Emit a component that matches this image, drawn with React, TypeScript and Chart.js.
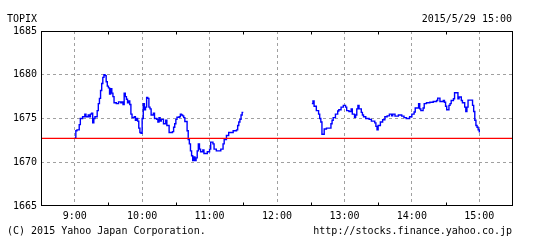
import React, { useEffect, useRef } from 'react';
import { Chart, registerables } from 'chart.js';

Chart.register(...registerables);

// minutes after 9:00
const morningMinutes = [0,1,2,4,5,7,9,10,12,13,14,15,16,17,18,20,21,22,23,24,25,26,27,28,29,30,31,32,33,34,35,37,39,41,42,43,44,45,46,47,48,49,50,51,53,54,55,56,57,58,59,60,61,62,63,64,65,66,67,68,70,71,73,74,75,76,77,79,81,82,84,87,88,89,90,91,93,94,95,96,97,98,100,101,102,103,104,105,106,107,108,109,110,111,112,114,115,117,118,120,121,123,124,126,129,130,132,133,135,137,141,144,145,146,147,148,149,150];
const morningValues = [1672.8,1673.6,1673.7,1674.3,1675.0,1675.2,1675.5,1675.2,1675.4,1675.2,1675.5,1675.6,1674.5,1675.0,1675.2,1675.9,1676.7,1677.3,1678.2,1679.0,1679.7,1680.0,1679.9,1679.2,1678.7,1678.5,1677.8,1678.4,1677.9,1677.5,1676.8,1676.7,1676.9,1676.8,1676.9,1676.6,1677.9,1677.5,1677.2,1676.8,1677.0,1676.6,1675.5,1675.1,1675.2,1674.8,1675.0,1674.7,1673.9,1673.4,1673.3,1675.0,1676.7,1676.0,1676.3,1677.4,1677.3,1676.3,1676.1,1675.4,1675.6,1675.0,1674.9,1674.6,1675.1,1674.7,1674.9,1674.4,1674.8,1674.2,1673.4,1673.5,1674.0,1674.4,1674.9,1675.15,1675.2,1675.5,1675.4,1675.3,1675.1,1674.65,1673.6,1672.6,1672.1,1671.3,1670.75,1670.2,1670.6,1670.2,1670.5,1671.3,1672.1,1671.5,1671.2,1671.4,1671.0,1671.0,1671.2,1671.5,1672.3,1672.1,1671.5,1671.3,1671.3,1671.5,1672.1,1672.6,1673.05,1673.4,1673.6,1673.7,1674.2,1674.6,1674.9,1675.4,1675.7,1675.7];

const afternoonMinutes = [211,212,213,215,217,218,219,220,222,224,227,228,229,230,232,234,235,237,239,241,242,244,246,247,249,250,251,252,253,255,256,257,259,262,264,267,268,269,270,272,274,276,278,280,282,283,285,288,291,293,295,297,298,300,302,303,305,306,307,308,310,311,313,316,319,322,323,325,328,329,330,331,333,334,335,337,338,340,341,342,344,345,347,348,349,350,352,354,355,356,357,358,359,360];
const afternoonValues = [1676.7,1677.0,1676.4,1675.9,1675.5,1675.0,1674.6,1673.2,1673.8,1673.9,1673.9,1674.4,1674.8,1675.1,1675.5,1675.85,1676.0,1676.3,1676.5,1676.3,1675.9,1675.8,1676.1,1675.5,1675.15,1675.4,1676.1,1676.5,1676.1,1675.7,1675.4,1675.2,1675.0,1674.9,1674.7,1674.5,1674.1,1673.7,1674.2,1674.6,1674.85,1675.2,1675.3,1675.5,1675.3,1675.5,1675.27,1675.4,1675.27,1675.1,1675.0,1675.0,1675.2,1675.5,1675.75,1676.2,1676.2,1676.7,1676.1,1675.9,1676.2,1676.7,1676.8,1676.85,1676.95,1677.05,1677.33,1676.95,1677.05,1676.85,1676.4,1676.0,1676.5,1676.7,1677.05,1677.25,1677.95,1677.95,1677.25,1677.45,1677.05,1676.8,1676.3,1675.8,1676.3,1677.1,1677.1,1676.5,1675.8,1674.8,1674.2,1674.0,1673.7,1673.4];

const previousClose = 1672.74;

const hourTickMinutes = [0, 60, 120, 180, 240, 300, 360];
const hourTickLabels = ['9:00', '10:00', '11:00', '12:00', '13:00', '14:00', '15:00'];
const halfHourTickMinutes = [-30, 30, 90, 150, 210, 270, 330, 390];
const yTickValues = [1665, 1670, 1675, 1680, 1685];

const X_MIN = -30;
const X_MAX = 390;
const Y_MIN = 1665;
const Y_MAX = 1685;

const FONT = '"DejaVu Sans Mono", "Liberation Mono", monospace';

const framePlugin = {
  id: 'frame',
  afterDraw(chart: any) {
    const { ctx, chartArea, scales } = chart;
    const l = Math.round(chartArea.left) + 0.5;
    const r = Math.round(chartArea.right) - 0.5;
    const t = Math.round(chartArea.top) + 0.5;
    const b = Math.round(chartArea.bottom) - 0.5;
    ctx.save();
    ctx.strokeStyle = '#000';
    ctx.lineWidth = 1;
    ctx.setLineDash([]);
    ctx.strokeRect(l, t, r - l, b - t);
    ctx.beginPath();
    for (const m of halfHourTickMinutes) {
      if (m <= X_MIN || m >= X_MAX) continue;
      const px = Math.round(scales.x.getPixelForValue(m)) + 0.5;
      ctx.moveTo(px, t);
      ctx.lineTo(px, t + 3);
      ctx.moveTo(px, b);
      ctx.lineTo(px, b - 3);
    }
    ctx.stroke();
    ctx.restore();
  },
};

export default function App() {
  const canvasRef = useRef<HTMLCanvasElement | null>(null);

  useEffect(() => {
    if (!canvasRef.current) return;
    const priceData: any[] = morningMinutes.map((m, i) => ({ x: m, y: morningValues[i] }));
    priceData.push({ x: 180, y: null });
    afternoonMinutes.forEach((m, i) => priceData.push({ x: m, y: afternoonValues[i] }));

    const chart = new Chart(canvasRef.current, {
      type: 'line',
      data: {
        datasets: [
          {
            data: [
              { x: X_MIN, y: previousClose },
              { x: X_MAX, y: previousClose },
            ],
            borderColor: '#ff0000',
            borderWidth: 1.2,
            pointRadius: 0,
            order: 0,
          },
          {
            data: priceData,
            borderColor: '#0000ff',
            borderWidth: 1.4,
            pointRadius: 0,
            stepped: true,
            spanGaps: false,
            order: 1,
          },
        ],
      },
      options: {
        animation: false,
        responsive: false,
        maintainAspectRatio: false,
        events: [],
        layout: { padding: { top: 31, right: 32, left: 0, bottom: 0 } },
        plugins: {
          legend: { display: false },
          tooltip: { enabled: false },
          title: { display: false },
        },
        scales: {
          x: {
            type: 'linear',
            min: X_MIN,
            max: X_MAX,
            afterFit(scale: any) {
              scale.height = 39;
            },
            afterBuildTicks(scale: any) {
              scale.ticks = hourTickMinutes.map((v) => ({ value: v }));
            },
            ticks: {
              autoSkip: false,
              maxRotation: 0,
              padding: 4,
              color: '#000',
              font: { family: FONT, size: 10 },
              callback: (v: any) => {
                const idx = hourTickMinutes.indexOf(Number(v));
                return idx >= 0 ? hourTickLabels[idx] : '';
              },
            },
            grid: {
              drawTicks: false,
              color: '#a0a0a0',
              lineWidth: 1,
            },
            border: { display: false, dash: [3, 3] },
          },
          y: {
            type: 'linear',
            min: Y_MIN,
            max: Y_MAX,
            afterFit(scale: any) {
              scale.width = 41;
            },
            afterBuildTicks(scale: any) {
              scale.ticks = yTickValues.map((v) => ({ value: v }));
            },
            ticks: {
              padding: 4,
              color: '#000',
              font: { family: FONT, size: 10 },
              callback: (v: any) => String(v),
            },
            grid: {
              drawTicks: false,
              color: (c: any) =>
                c.tick && (c.tick.value === Y_MIN || c.tick.value === Y_MAX) ? 'rgba(0,0,0,0)' : '#a0a0a0',
              lineWidth: 1,
            },
            border: { display: false, dash: [3, 3] },
          },
        },
      },
      plugins: [framePlugin],
    } as any);

    return () => chart.destroy();
  }, []);

  const textStyle: React.CSSProperties = {
    position: 'absolute',
    fontFamily: FONT,
    fontSize: '10px',
    lineHeight: '12px',
    color: '#000',
    whiteSpace: 'nowrap',
  };

  return (
    <div style={{ position: 'fixed', left: 0, top: 0, width: 545, height: 245, background: '#fff' }}>
      <canvas ref={canvasRef} width={545} height={245} style={{ position: 'absolute', left: 0, top: 0, width: 545, height: 245 }} />
      <div style={{ ...textStyle, left: 7, top: 13 }}>TOPIX</div>
      <div style={{ ...textStyle, right: 33, top: 13 }}>2015/5/29 15:00</div>
      <div style={{ ...textStyle, left: 7, top: 225 }}>(C) 2015 Yahoo Japan Corporation.</div>
      <div style={{ ...textStyle, right: 33, top: 225 }}>http://stocks.finance.yahoo.co.jp</div>
    </div>
  );
}
